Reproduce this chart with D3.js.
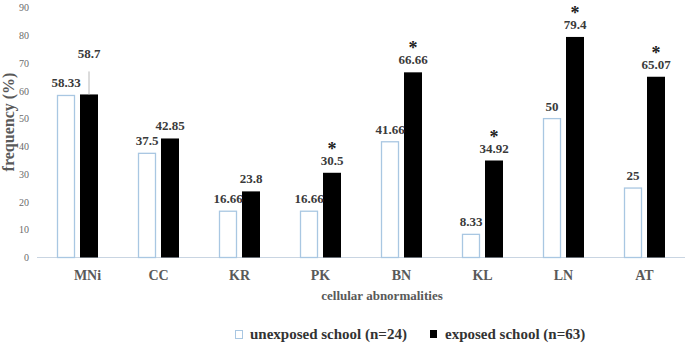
<!DOCTYPE html>
<html>
<head>
<meta charset="utf-8">
<script src="https://cdn.jsdelivr.net/npm/d3@7"></script>
<style>
html,body{margin:0;padding:0;background:#fff;}
svg{display:block;}
text{font-family:"Liberation Serif","Times New Roman",serif;}
</style>
</head>
<body>
<svg id="chart" width="685" height="347"></svg>
<script>
const categories = ["MNi","CC","KR","PK","BN","KL","LN","AT"];
const unexposed = [58.33,37.5,16.66,16.66,41.66,8.33,50,25];
const exposed = [58.7,42.85,23.8,30.5,66.66,34.92,79.4,65.07];
const significant = [false,false,false,true,true,true,true,true];
const seriesNames = ["unexposed school (n=24)","exposed school (n=63)"];
const yTicks = [0,10,20,30,40,50,60,70,80,90];

(function(){
const svg = d3.select("#chart");
const plotLeft = 37, plotRight = 685, plotTop = 7.5, plotBottom = 257.5;

const x0 = d3.scaleBand().domain(categories).range([plotLeft, plotRight]).padding(0);
const x1 = d3.scaleBand().domain(["u","e"])
  .range([x0.bandwidth()/2 - 20.5, x0.bandwidth()/2 + 20.5])
  .paddingInner(2 - 41/23).paddingOuter(0);
const y = d3.scaleLinear().domain([0,90]).range([plotBottom, plotTop]);

const unexpColor = "#a9c7e2";
const labelColor = "#3a3a3a";
const axisColor = "#595959";

// y tick labels
const yAxis = d3.axisLeft(y).tickValues(yTicks).tickSize(0).tickPadding(0);
const gy = svg.append("g").attr("transform", "translate(29,0)").call(yAxis);
gy.select(".domain").remove();
gy.selectAll("text").attr("font-size", 10).attr("fill", "#6a6a6a");

// baseline
svg.append("line").attr("x1", plotLeft).attr("x2", plotRight)
  .attr("y1", y(0)).attr("y2", y(0))
  .attr("stroke", "#c9d5e2").attr("stroke-width", 1.2);

const data = categories.map((c,i)=>({c, u:unexposed[i], e:exposed[i], sig:significant[i], i}));

const g = svg.append("g");
const grp = g.selectAll("g.cat").data(data).join("g")
  .attr("transform", d => `translate(${x0(d.c)},0)`);

// unexposed bars
grp.append("rect")
  .attr("x", d => x1("u") + 0.5)
  .attr("y", d => y(d.u))
  .attr("width", x1.bandwidth() - 1)
  .attr("height", d => y(0) - y(d.u))
  .attr("fill", "#fff").attr("stroke", unexpColor).attr("stroke-width", 1.3);

// exposed bars
grp.append("rect")
  .attr("x", d => x1("e"))
  .attr("y", d => y(d.e))
  .attr("width", x1.bandwidth())
  .attr("height", d => y(0) - y(d.e))
  .attr("fill", "#000");

// value labels
grp.append("text")
  .attr("x", d => x1("u") + x1.bandwidth()/2)
  .attr("y", d => y(d.u) - 8)
  .attr("text-anchor", "middle")
  .attr("font-size", 13).attr("font-weight", "bold").attr("fill", labelColor)
  .text(d => d.u);

const raise = d => d.i === 0 ? 28 : 0;
grp.append("text")
  .attr("x", d => x1("e") + x1.bandwidth()/2)
  .attr("y", d => y(d.e) - 8 - raise(d))
  .attr("text-anchor", "middle")
  .attr("font-size", 13).attr("font-weight", "bold").attr("fill", labelColor)
  .text(d => d.e);

// leader line for raised label
grp.filter(d => raise(d) > 0).append("line")
  .attr("x1", d => x1("e") + x1.bandwidth()/2)
  .attr("x2", d => x1("e") + x1.bandwidth()/2)
  .attr("y1", d => y(d.e) - raise(d) + 5)
  .attr("y2", d => y(d.e))
  .attr("stroke", "#b8b8b8").attr("stroke-width", 1);

// significance asterisks
grp.filter(d => d.sig).append("text")
  .attr("x", d => x1("e") + x1.bandwidth()/2)
  .attr("y", d => y(d.e) - 8 - 10)
  .attr("text-anchor", "middle")
  .attr("font-size", 18).attr("font-weight", "bold").attr("fill", "#222")
  .text("*");

// category labels
svg.append("g").selectAll("text").data(categories).join("text")
  .attr("x", (d,i) => x0(d) + x0.bandwidth()/2 + (i === 0 ? 10 : 0))
  .attr("y", 280)
  .attr("text-anchor", "middle")
  .attr("font-size", 14).attr("font-weight", "bold").attr("fill", axisColor)
  .text(d => d);

// axis titles
svg.append("text").attr("x", 382).attr("y", 300)
  .attr("text-anchor", "middle").attr("font-size", 13).attr("font-weight", "bold")
  .attr("fill", axisColor).text("cellular abnormalities");

svg.append("text")
  .attr("transform", "translate(14,122) rotate(-90)")
  .attr("text-anchor", "middle").attr("font-size", 16).attr("font-weight", "bold")
  .attr("fill", axisColor).text("frequency (%)");

// legend
const legend = svg.append("g");
const legX = [235, 430];
legend.append("rect").attr("x", legX[0] + 0.5).attr("y", 330.5).attr("width", 7).attr("height", 8)
  .attr("fill", "#fff").attr("stroke", unexpColor).attr("stroke-width", 1);
legend.append("rect").attr("x", legX[1]).attr("y", 330).attr("width", 7).attr("height", 8)
  .attr("fill", "#000");
legend.selectAll("text").data(seriesNames).join("text")
  .attr("x", (d,i) => legX[i] + 15)
  .attr("y", 339)
  .attr("font-size", 15).attr("font-weight", "bold").attr("fill", "#333")
  .text(d => d);
})();
</script>
</body>
</html>
